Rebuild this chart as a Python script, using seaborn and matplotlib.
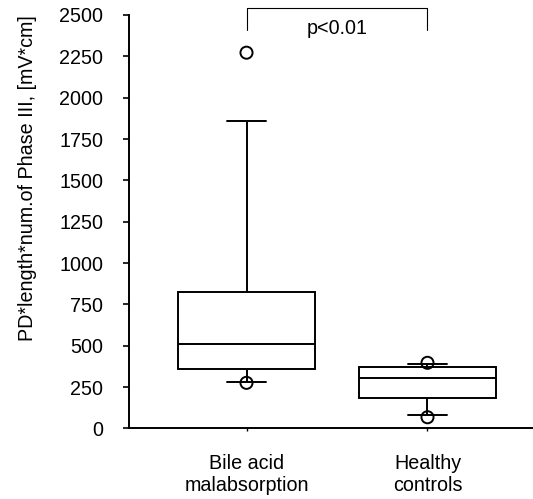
import matplotlib
matplotlib.use('Agg')
import matplotlib.pyplot as plt
import numpy as np
import pandas as pd
import seaborn as sns

# --- Data ---
GROUPS = ["Bile acid\nmalabsorption", "Healthy\ncontrols"]
# per-group box statistics: lower whisker, Q1, median, Q3, upper whisker
WHISK_LO = [280, 80]
Q1 = [360, 185]
MEDIAN = [513, 306]
Q3 = [827, 374]
WHISK_HI = [1860, 392]
# points drawn as circles
POINT_GROUP = ["Bile acid\nmalabsorption", "Bile acid\nmalabsorption",
               "Healthy\ncontrols", "Healthy\ncontrols"]
POINT_VALUE = [2272, 276, 397, 68]
YTICKS = [0, 250, 500, 750, 1000, 1250, 1500, 1750, 2000, 2250, 2500]
P_TEXT = "p<0.01"

# five values per group reproduce the box stats exactly with whis=(0, 100)
rows = []
for i, g in enumerate(GROUPS):
    for v in (WHISK_LO[i], Q1[i], MEDIAN[i], Q3[i], WHISK_HI[i]):
        rows.append({"group": g, "value": v})
box_df = pd.DataFrame(rows)
pts_df = pd.DataFrame({"group": POINT_GROUP, "value": POINT_VALUE})

sns.set_style("ticks", {"axes.edgecolor": "black", "text.color": "black",
                        "axes.labelcolor": "black", "xtick.color": "black",
                        "ytick.color": "black"})
plt.rcParams['font.family'] = ['Liberation Sans', 'DejaVu Sans']
FS = 14.2

fig = plt.figure(figsize=(5.33, 4.99), dpi=100)
ax = fig.add_axes([0.2411, 0.1413, 0.7589, 0.8287])

lw = 1.4
sns.boxplot(data=box_df, x="group", y="value", order=GROUPS, whis=(0, 100),
            width=0.76, color="white", linecolor="black", linewidth=lw,
            capwidths=0.215, ax=ax)
sns.stripplot(data=pts_df, x="group", y="value", order=GROUPS, jitter=False,
              marker="o", size=8.7, color="black", facecolors="none",
              edgecolor="black", linewidth=lw, zorder=5, ax=ax)

ax.set_ylim(0, 2500)
ax.set_xlim(-0.652, 1.583)
ax.set_yticks(YTICKS)
ax.set_yticklabels([str(t) for t in YTICKS], fontsize=FS)
ax.tick_params(axis="x", labelsize=FS, length=2.5, pad=16, width=1)
ax.tick_params(axis="y", length=4.3, width=1.2, pad=13.8)
ax.set_xlabel("")
ax.set_ylabel("PD*length*num.of Phase III, [mV*cm]", fontsize=FS)
ax.yaxis.set_label_coords(-0.226, 0.606)
for s in ("left", "bottom"):
    ax.spines[s].set_linewidth(lw)
sns.despine(ax=ax)

# significance bracket
ax.plot([0, 0, 1, 1], [2409, 2543, 2543, 2409], color="black", lw=0.8,
        clip_on=False)
ax.text(0.5, 2421, P_TEXT, ha="center", va="center", fontsize=FS)

fig.savefig("out.png", dpi=100)
